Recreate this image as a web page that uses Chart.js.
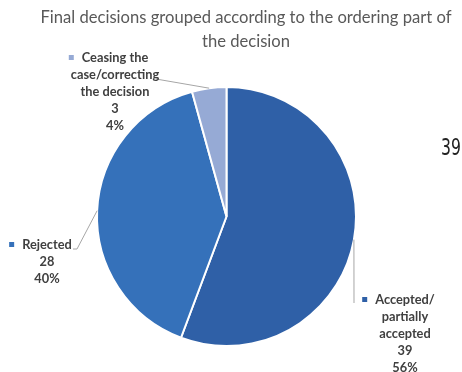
<!DOCTYPE html>
<html>
<head>
<meta charset="utf-8">
<script src="https://cdn.jsdelivr.net/npm/chart.js@4.4.1/dist/chart.umd.min.js"></script>
<style>
  html, body { margin: 0; padding: 0; background: #ffffff; }
  #wrap { width: 462px; height: 372px; position: relative; }
</style>
</head>
<body>
<div id="wrap"><canvas id="chart" width="462" height="372"></canvas></div>
<script>
// Decisions by outcome of the ordering part
const categories = ['Accepted/ partially accepted', 'Rejected', 'Ceasing the case/correcting the decision'];
const labelLines = [
  ['Accepted/', 'partially', 'accepted'],
  ['Rejected'],
  ['Ceasing the', 'case/correcting', 'the decision']
];
const counts = [39, 28, 3];
const sliceColors = ['#2F60A7', '#3571BA', '#96AAD5'];
const titleLines = ['Final decisions grouped according to the ordering part of', 'the decision'];
const sideNote = '39';

const total = counts.reduce((a, b) => a + b, 0);
const percents = counts.map(v => Math.round(v / total * 100));

// Where each data label block sits, and the elbow of its leader line
const labelLayout = [
  { cx: 405, y: 300, elbow: [[354, 303]] },
  { cx: 47, y: 245, elbow: [[77, 249], [73, 249]] },
  { cx: 115, y: 58, elbow: [[156, 79]] }
];

const LABEL_FONT = 'bold 12.8px Lato, "Open Sans", sans-serif';
const LINE_H = 17;

const decorPlugin = {
  id: 'decor',
  afterDatasetsDraw(chart) {
    const ctx = chart.ctx;
    const meta = chart.getDatasetMeta(0);
    ctx.save();

    // leader lines from the middle of each arc
    meta.data.forEach((arc, i) => {
      const p = arc.getProps(['x', 'y', 'startAngle', 'endAngle', 'outerRadius'], true);
      const mid = (p.startAngle + p.endAngle) / 2;
      const sx = p.x + Math.cos(mid) * p.outerRadius;
      const sy = p.y + Math.sin(mid) * p.outerRadius;
      ctx.beginPath();
      ctx.moveTo(sx, sy);
      labelLayout[i].elbow.forEach(pt => ctx.lineTo(pt[0], pt[1]));
      ctx.strokeStyle = '#A6A6A6';
      ctx.lineWidth = 1;
      ctx.stroke();
    });

    // data labels: category, count, percentage
    ctx.font = LABEL_FONT;
    ctx.fillStyle = '#404040';
    ctx.textAlign = 'center';
    ctx.textBaseline = 'middle';
    meta.data.forEach((arc, i) => {
      const L = labelLayout[i];
      const lines = labelLines[i].concat([String(counts[i]), percents[i] + '%']);
      lines.forEach((t, k) => ctx.fillText(t, L.cx, L.y + k * LINE_H));
      const w = ctx.measureText(lines[0]).width;
      ctx.fillStyle = sliceColors[i];
      ctx.fillRect(L.cx - w / 2 - 13, L.y - 3, 5, 5);
      ctx.fillStyle = '#404040';
    });

    // chart title
    ctx.font = '16.6px Lato, "Open Sans", sans-serif';
    ctx.fillStyle = '#595959';
    ctx.fillText(titleLines[0], 246, 18);
    ctx.fillText(titleLines[1], 246, 42);

    // side note, in a narrow face
    ctx.save();
    ctx.translate(451, 149);
    ctx.scale(0.68, 1);
    ctx.font = '23px "DejaVu Sans", sans-serif';
    ctx.fillStyle = '#222222';
    ctx.fillText(sideNote, 0, 0);
    ctx.restore();

    ctx.restore();
  }
};

new Chart(document.getElementById('chart'), {
  type: 'pie',
  data: {
    labels: categories,
    datasets: [{
      data: counts,
      backgroundColor: sliceColors,
      borderColor: '#ffffff',
      borderWidth: 2
    }]
  },
  options: {
    responsive: false,
    animation: false,
    layout: { padding: { top: 86, bottom: 25, left: 96, right: 105 } },
    plugins: {
      legend: { display: false },
      title: { display: false },
      tooltip: { enabled: false }
    }
  },
  plugins: [decorPlugin]
});
</script>
</body>
</html>
